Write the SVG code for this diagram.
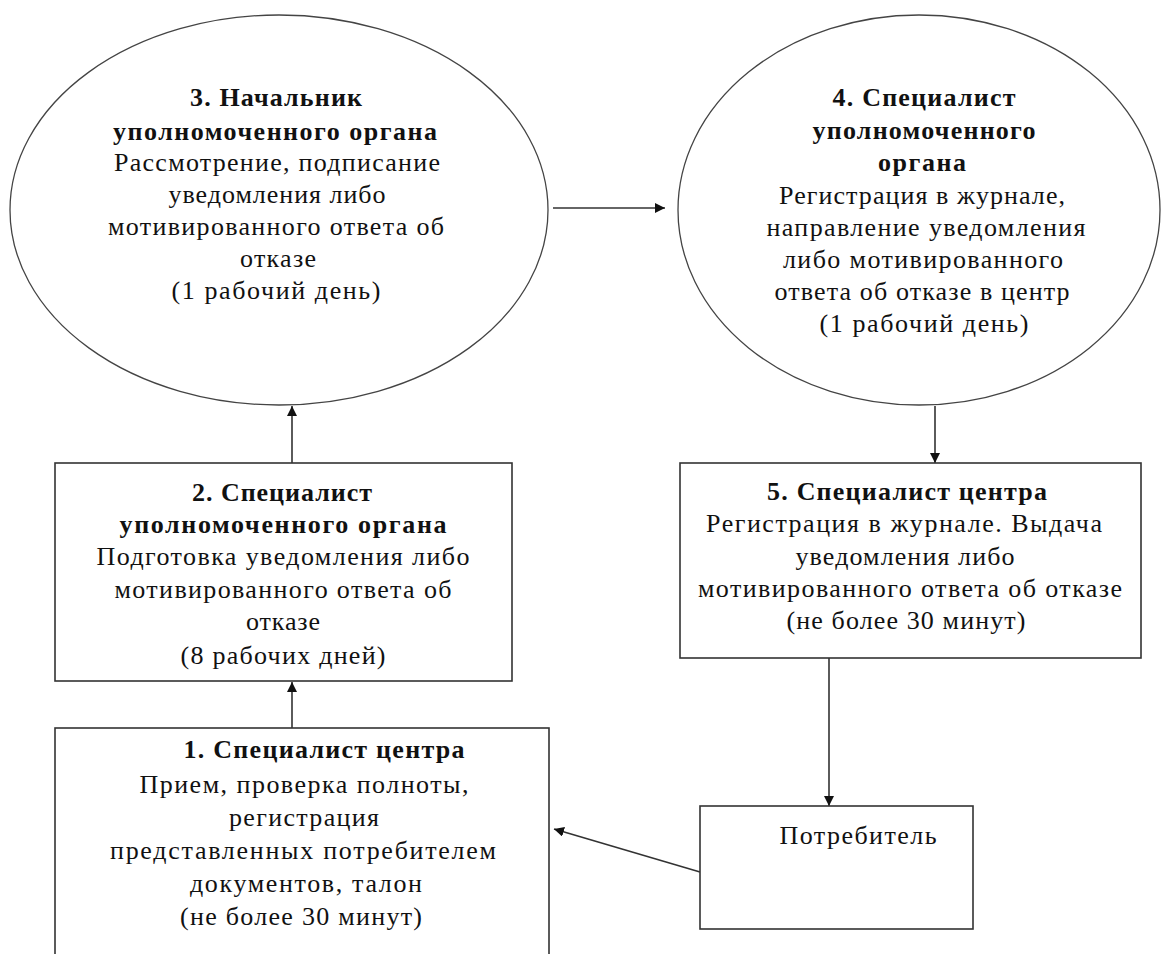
<svg xmlns="http://www.w3.org/2000/svg" width="1162" height="954" viewBox="0 0 1162 954">
<defs>
<marker id="ah" viewBox="0 0 10 10" refX="10" refY="5" markerWidth="10" markerHeight="10" markerUnits="userSpaceOnUse" orient="auto">
<path d="M0,0 L10,5 L0,10 z" fill="#111"/>
</marker>
<style>
.shape{fill:#fff;stroke:#333;stroke-width:1.6}
.ell{fill:#fff;stroke:#444;stroke-width:1.3}
text{font-family:"Liberation Serif","Times New Roman",serif;font-size:26px;fill:#111;text-anchor:middle}
.b{font-weight:bold}
.conn{stroke:#333;stroke-width:1.6;fill:none;marker-end:url(#ah)}
</style>
</defs>
<rect width="1162" height="954" fill="#fff"/>
<g id="connectors">
<line class="conn" x1="553" y1="208" x2="665" y2="208"/>
<line class="conn" x1="292" y1="463" x2="292" y2="406"/>
<line class="conn" x1="292" y1="728" x2="292" y2="682"/>
<line class="conn" x1="935" y1="406" x2="935" y2="463"/>
<line class="conn" x1="829" y1="658" x2="829" y2="806"/>
<line class="conn" x1="700" y1="872" x2="554" y2="829"/>
</g>
<g id="node3">
<ellipse class="ell" cx="279" cy="210" rx="269" ry="195"/>
<text class="b" x="276" y="106" textLength="172" lengthAdjust="spacing">3. Начальник</text>
<text class="b" x="275" y="140" textLength="324" lengthAdjust="spacing">уполномоченного органа</text>
<text x="277" y="171" textLength="326" lengthAdjust="spacing">Рассмотрение, подписание</text>
<text x="277" y="203" textLength="217" lengthAdjust="spacing">уведомления либо</text>
<text x="276" y="235" textLength="336" lengthAdjust="spacing">мотивированного ответа об</text>
<text x="278" y="267" textLength="76" lengthAdjust="spacing">отказе</text>
<text x="276" y="299" textLength="209" lengthAdjust="spacing">(1 рабочий  день)</text>
</g>
<g id="node4">
<ellipse class="ell" cx="919" cy="210" rx="241" ry="195"/>
<text class="b" x="924" y="106" textLength="183" lengthAdjust="spacing">4. Специалист</text>
<text class="b" x="924" y="139" textLength="223" lengthAdjust="spacing">уполномоченного</text>
<text class="b" x="922" y="171" textLength="88" lengthAdjust="spacing">органа</text>
<text x="922" y="204" textLength="286" lengthAdjust="spacing">Регистрация в журнале,</text>
<text x="926" y="236" textLength="319" lengthAdjust="spacing">направление уведомления</text>
<text x="923" y="268" textLength="280" lengthAdjust="spacing">либо мотивированного</text>
<text x="922" y="300" textLength="295" lengthAdjust="spacing">ответа об отказе в центр</text>
<text x="924" y="332" textLength="209" lengthAdjust="spacing">(1 рабочий  день)</text>
</g>
<g id="node2">
<rect class="shape" x="55" y="463" width="457" height="218"/>
<text class="b" x="282" y="501" textLength="180" lengthAdjust="spacing">2. Специалист</text>
<text class="b" x="283" y="533" textLength="327" lengthAdjust="spacing">уполномоченного органа</text>
<text x="283" y="565" textLength="373" lengthAdjust="spacing">Подготовка уведомления либо</text>
<text x="283" y="598" textLength="337" lengthAdjust="spacing">мотивированного ответа об</text>
<text x="283" y="630" textLength="74" lengthAdjust="spacing">отказе</text>
<text x="283" y="664" textLength="205" lengthAdjust="spacing">(8 рабочих дней)</text>
</g>
<g id="node5">
<rect class="shape" x="680" y="463" width="461" height="195"/>
<text class="b" x="907" y="500" textLength="280" lengthAdjust="spacing">5. Специалист центра</text>
<text x="904" y="532" textLength="396" lengthAdjust="spacing">Регистрация в журнале. Выдача</text>
<text x="905" y="565" textLength="219" lengthAdjust="spacing">уведомления либо</text>
<text x="910" y="597" textLength="424" lengthAdjust="spacing">мотивированного ответа об отказе</text>
<text x="906" y="629" textLength="239" lengthAdjust="spacing">(не более 30 минут)</text>
</g>
<g id="node1">
<rect class="shape" x="55" y="728" width="494" height="240"/>
<text class="b" x="324" y="758" textLength="281" lengthAdjust="spacing">1. Специалист центра</text>
<text x="304" y="793" textLength="329" lengthAdjust="spacing">Прием, проверка полноты,</text>
<text x="304" y="826" textLength="150" lengthAdjust="spacing">регистрация</text>
<text x="303" y="859" textLength="386" lengthAdjust="spacing">представленных  потребителем</text>
<text x="306" y="892" textLength="232" lengthAdjust="spacing">документов, талон</text>
<text x="301" y="925" textLength="242" lengthAdjust="spacing">(не более 30 минут)</text>
</g>
<g id="consumer">
<rect class="shape" x="700" y="806" width="273" height="123"/>
<text x="858" y="844" textLength="157" lengthAdjust="spacing">Потребитель</text>
</g>
</svg>
